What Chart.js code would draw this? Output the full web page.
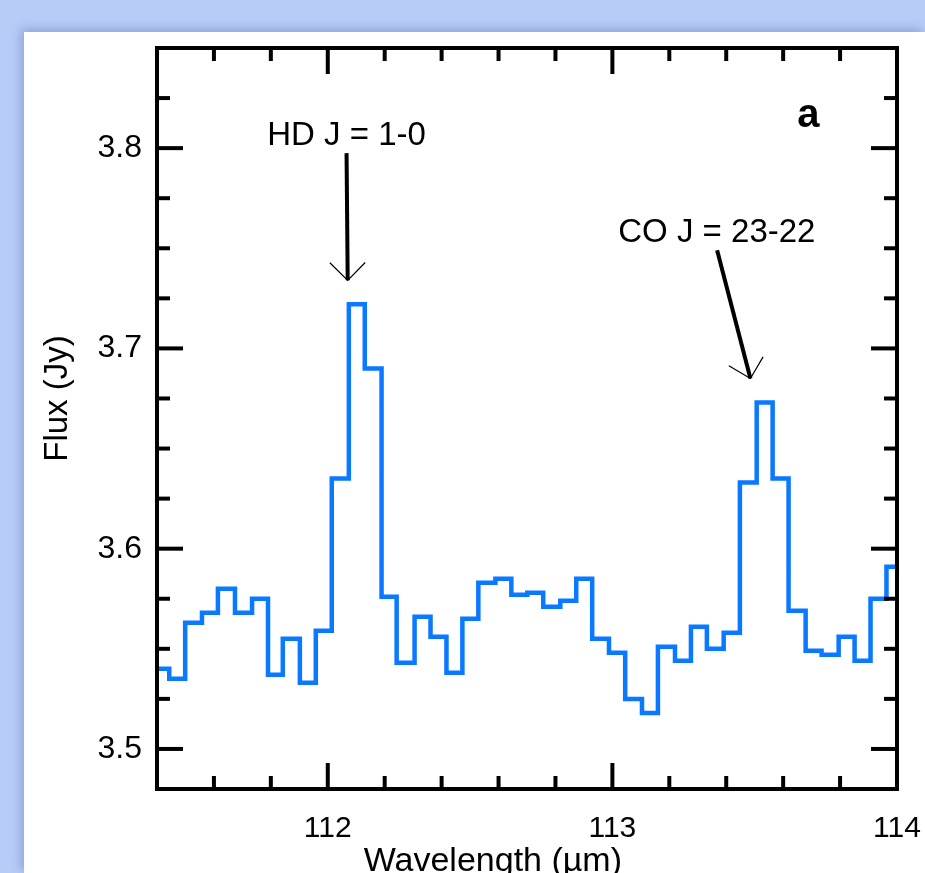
<!DOCTYPE html>
<html>
<head>
<meta charset="utf-8">
<script src="https://cdn.jsdelivr.net/npm/chart.js@4.4.1/dist/chart.umd.min.js"></script>
<style>
  html, body { margin: 0; padding: 0; }
  body { width: 925px; height: 873px; overflow: hidden; background: #b8ccf8; position: relative; }
  #panel { position: absolute; left: 24px; top: 32px; width: 901px; height: 841px; background: #fff; box-shadow: -3px -3px 10px rgba(60, 90, 160, 0.35); }
  #panel canvas { display: block; }
</style>
</head>
<body>
<div id="panel"><canvas id="chartFlux" width="901" height="841"></canvas></div>
<script>
// spectrum: left edge of each bin (um), last entry closes the last bin
const binEdges = [
  111.400, 111.443, 111.499, 111.558, 111.614, 111.674, 111.734, 111.790, 111.842, 111.902,
  111.958, 112.014, 112.074, 112.130, 112.189, 112.242, 112.305, 112.361, 112.417, 112.473,
  112.529, 112.589, 112.645, 112.701, 112.757, 112.817, 112.873, 112.929, 112.988, 113.045,
  113.104, 113.160, 113.220, 113.276, 113.332, 113.391, 113.448, 113.507, 113.563, 113.619,
  113.679, 113.735, 113.795, 113.851, 113.907, 113.963, 114.000
];
// flux per bin (Jy)
const flux = [
  3.540, 3.535, 3.563, 3.568, 3.580, 3.568, 3.575, 3.537, 3.555, 3.533,
  3.559, 3.635, 3.722, 3.690, 3.576, 3.543, 3.566, 3.556, 3.538, 3.565,
  3.583, 3.585, 3.577, 3.578, 3.571, 3.574, 3.585, 3.555, 3.548, 3.525,
  3.518, 3.551, 3.544, 3.561, 3.550, 3.558, 3.633, 3.673, 3.635, 3.569,
  3.549, 3.547, 3.556, 3.544, 3.575, 3.591
];

const xMajorTicks = [112, 113, 114];
const xMinorTicks = [111.6, 111.8, 112.2, 112.4, 112.6, 112.8, 113.2, 113.4, 113.6, 113.8];
const yMajorTicks = [3.5, 3.6, 3.7, 3.8];
const yMinorTicks = [3.525, 3.55, 3.575, 3.625, 3.65, 3.675, 3.725, 3.75, 3.775, 3.825];

const lineNames = ['HD J = 1-0', 'CO J = 23-22'];

const FONT = "'Liberation Sans', Arial, Helvetica, sans-serif";

// label + arrow placement, in data units
const annotations = [
  { text: lineNames[0], textAt: [112.066, 3.8015], from: [112.066, 3.7975], to: [112.070, 3.734] },
  { text: lineNames[1], textAt: [113.367, 3.753], from: [113.368, 3.749], to: [113.485, 3.685] }
];

function drawArrow(ctx, x0, y0, x1, y1) {
  ctx.lineWidth = 4;
  ctx.beginPath();
  ctx.moveTo(x0, y0);
  ctx.lineTo(x1, y1);
  ctx.stroke();
  const ang = Math.atan2(y1 - y0, x1 - x0);
  const len = 25;
  ctx.lineWidth = 1.2;
  ctx.beginPath();
  ctx.moveTo(x1 - len * Math.cos(ang - Math.PI / 4), y1 - len * Math.sin(ang - Math.PI / 4));
  ctx.lineTo(x1, y1);
  ctx.lineTo(x1 - len * Math.cos(ang + Math.PI / 4), y1 - len * Math.sin(ang + Math.PI / 4));
  ctx.stroke();
}

// box, inward ticks on every side, arrows and labels
const framePlugin = {
  id: 'frame',
  afterDraw(chart) {
    const { ctx, chartArea: a, scales: { x, y } } = chart;
    ctx.save();
    ctx.strokeStyle = '#000';
    ctx.fillStyle = '#000';
    ctx.lineCap = 'butt';
    ctx.lineJoin = 'miter';
    ctx.lineWidth = 4;

    const tick = (px, py, dx, dy) => {
      ctx.beginPath();
      ctx.moveTo(px, py);
      ctx.lineTo(px + dx, py + dy);
      ctx.stroke();
    };
    xMajorTicks.forEach(v => { const p = x.getPixelForValue(v); tick(p, a.bottom, 0, -26); tick(p, a.top, 0, 26); });
    xMinorTicks.forEach(v => { const p = x.getPixelForValue(v); tick(p, a.bottom, 0, -13); tick(p, a.top, 0, 13); });
    yMajorTicks.forEach(v => { const p = y.getPixelForValue(v); tick(a.left, p, 26, 0); tick(a.right, p, -26, 0); });
    yMinorTicks.forEach(v => { const p = y.getPixelForValue(v); tick(a.left, p, 13, 0); tick(a.right, p, -13, 0); });

    ctx.strokeRect(a.left, a.top, a.width, a.height);

    // line identifications
    ctx.font = '33px ' + FONT;
    ctx.textAlign = 'center';
    ctx.textBaseline = 'alphabetic';
    annotations.forEach(n => {
      ctx.fillText(n.text, x.getPixelForValue(n.textAt[0]), y.getPixelForValue(n.textAt[1]));
      drawArrow(ctx,
        x.getPixelForValue(n.from[0]), y.getPixelForValue(n.from[1]),
        x.getPixelForValue(n.to[0]), y.getPixelForValue(n.to[1]));
    });

    // panel letter
    ctx.font = 'bold 40px ' + FONT;
    ctx.fillText('a', x.getPixelForValue(113.689), y.getPixelForValue(3.8105));

    // axis titles
    ctx.font = '34px ' + FONT;
    ctx.fillText('Wavelength (\u00b5m)', x.getPixelForValue(112.58), a.bottom + 82);

    ctx.font = '33px ' + FONT;
    ctx.translate(a.left - 99, y.getPixelForValue(3.675));
    ctx.rotate(-Math.PI / 2);
    ctx.textBaseline = 'middle';
    ctx.fillText('Flux (Jy)', 0, 0);
    ctx.restore();
  }
};

document.addEventListener('DOMContentLoaded', function() {
  if (typeof Chart === 'undefined') return;

  Chart.defaults.font.family = FONT;
  Chart.defaults.color = '#000';

  const points = binEdges.map((w, i) => ({ x: w, y: flux[Math.min(i, flux.length - 1)] }));

  new Chart(document.getElementById('chartFlux'), {
    type: 'line',
    data: {
      datasets: [{
        label: 'Flux',
        data: points,
        stepped: 'before',
        borderColor: '#0a78ff',
        borderWidth: 4.5,
        borderJoinStyle: 'miter',
        borderCapStyle: 'butt',
        pointRadius: 0,
        fill: false
      }]
    },
    options: {
      responsive: false,
      animation: false,
      events: [],
      layout: { padding: { left: 0, top: 16, right: 28, bottom: 0 } },
      plugins: {
        legend: { display: false },
        tooltip: { enabled: false }
      },
      scales: {
        x: {
          type: 'linear',
          min: 111.4,
          max: 114,
          grid: { display: false, drawTicks: false },
          border: { display: false },
          ticks: { font: { size: 30 }, padding: 22, maxRotation: 0 },
          afterBuildTicks: s => { s.ticks = xMajorTicks.map(v => ({ value: v })); },
          afterFit: s => { s.height = 84; s.paddingLeft = 0; s.paddingRight = 0; }
        },
        y: {
          type: 'linear',
          min: 3.48,
          max: 3.85,
          grid: { display: false, drawTicks: false },
          border: { display: false },
          ticks: {
            font: { size: 32 },
            padding: 15,
            callback: v => v.toFixed(1)
          },
          afterBuildTicks: s => { s.ticks = yMajorTicks.map(v => ({ value: v })); },
          afterFit: s => { s.width = 133; s.paddingTop = 0; s.paddingBottom = 0; }
        }
      }
    },
    plugins: [framePlugin]
  });
});
</script>
</body>
</html>
